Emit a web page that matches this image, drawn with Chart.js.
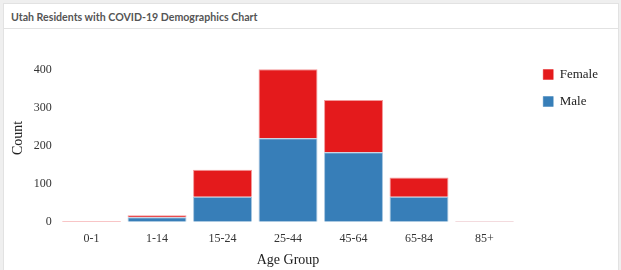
<!DOCTYPE html>
<html>
<head>
<meta charset="utf-8">
<script src="https://cdn.jsdelivr.net/npm/chart.js@4"></script>
<style>
  html, body { margin: 0; padding: 0; background: #efefef; }
  .panel { position: absolute; left: 3px; top: 3px; width: 616px; height: 267px; background: #fff; border: 1px solid #e2e2e2; border-bottom: none; box-sizing: border-box; }
  .panel-head { height: 25px; border-bottom: 1px solid #e2e2e2; font: bold 10.6px Lato, sans-serif; color: #555; padding: 7px 0 0 7px; box-sizing: border-box; }
  .chart-box { position: absolute; left: 0; top: 33px; width: 614px; height: 233px; }
</style>
</head>
<body>
<div class="panel">
  <div class="panel-head">Utah Residents with COVID-19 Demographics Chart</div>
  <div class="chart-box"><canvas id="demo-canvas"></canvas></div>
</div>
<script>
let ageGroups = ["0-1", "1-14", "15-24", "25-44", "45-64", "65-84", "85+"];
let maleCounts = [0, 12, 66, 220, 183, 66, 1];
let femaleCounts = [2, 5, 71, 182, 138, 51, 1];
let countTicks = [0, 100, 200, 300, 400];

demo_chart();

function demo_chart(){
    let ctx = document.getElementById("demo-canvas").getContext("2d");
    let serif = "'Liberation Serif', 'Times New Roman', serif";
    let data = {
        labels: ageGroups,
        datasets: [{
            label: "Male",
            data: maleCounts,
            backgroundColor: "#377eb8",
            borderColor: "rgba(55,126,184,0.45)",
            borderWidth: 1
        }, {
            label: "Female",
            data: femaleCounts,
            backgroundColor: "#e41a1c",
            borderColor: "rgba(228,26,28,0.45)",
            borderWidth: 1
        }]
    };
    new Chart(ctx, {
        type: 'bar',
        data: data,
        options: {
            responsive: true,
            maintainAspectRatio: false,
            animation: false,
            layout: { padding: { left: 6, right: 10, top: 17, bottom: 1 } },
            datasets: { bar: { categoryPercentage: 1.0, barPercentage: 0.9 } },
            plugins: {
                tooltip: { enabled: false },
                legend: {
                    position: 'right',
                    align: 'start',
                    reverse: true,
                    labels: {
                        boxWidth: 10,
                        boxHeight: 10,
                        padding: 14,
                        color: "#222",
                        font: { family: serif, size: 13 }
                    }
                }
            },
            scales: {
                x: {
                    stacked: true,
                    grid: { display: false, drawTicks: false, tickLength: 0 },
                    border: { display: false },
                    ticks: { color: "#333", font: { family: serif, size: 12 }, padding: 10 },
                    title: { display: true, text: "Age Group", color: "#222", font: { family: serif, size: 14 }, padding: { top: -4, bottom: 0 } }
                },
                y: {
                    stacked: true,
                    min: 0,
                    max: 442,
                    grid: { display: false, drawTicks: false, tickLength: 0 },
                    border: { display: false },
                    afterBuildTicks: function(axis){
                        axis.ticks = countTicks.map(v => ({ value: v }));
                    },
                    ticks: { color: "#333", font: { family: serif, size: 12 }, padding: 7 },
                    title: { display: true, text: "Count", color: "#222", font: { family: serif, size: 14 }, padding: { top: 0, bottom: 0 } }
                },
                // empty spacer between the bars and the legend
                gap: {
                    type: 'linear',
                    position: 'right',
                    display: true,
                    grid: { display: false, drawTicks: false },
                    border: { display: false },
                    ticks: { display: false },
                    afterFit: function(axis){ axis.width = 12; }
                }
            }
        }
    });
}
</script>
</body>
</html>
